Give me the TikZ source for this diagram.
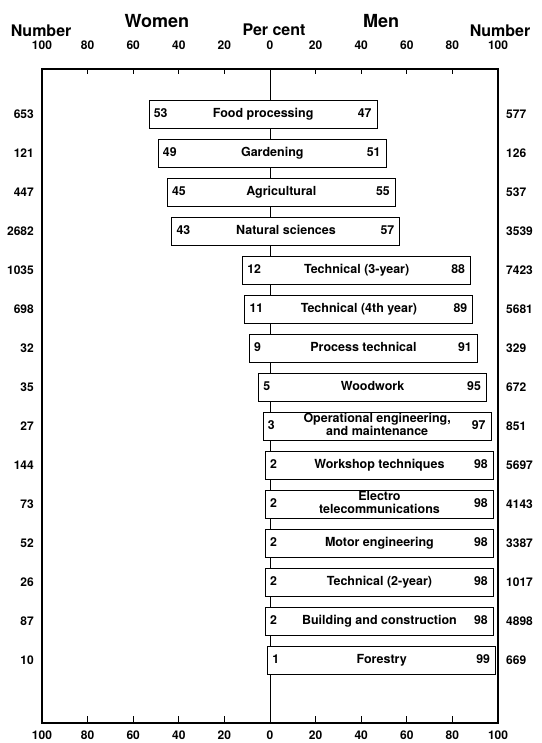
\documentclass[tikz,border=0pt]{standalone}
\usepackage{fontspec}
\setmainfont{TeX Gyre Heros}
\usepackage{tikz}
\usetikzlibrary{positioning}

\tikzset{
  barre/.style={draw, line width=1pt, fill=white, minimum width=228pt, minimum height=28pt,
    inner sep=0pt, align=center, font=\fontsize{12.5}{13.5}\selectfont\bfseries},
  pct/.style={font=\fontsize{12.3}{14}\selectfont\bfseries, inner sep=0pt,
    text height=9.45pt, text depth=4.05pt},
  nombre/.style={font=\fontsize{12}{14}\selectfont\bfseries, inner sep=0pt},
  titre/.style={font=\fontsize{18}{20}\selectfont\bfseries, inner sep=0pt},
  soustitre/.style={font=\fontsize{16}{18}\selectfont\bfseries, inner sep=0pt},
}

\begin{document}
\begin{tikzpicture}[x=2.28pt, y=-39pt]
    \useasboundingbox (-118.42,-1.936) rectangle (118.86,17.115);

    % Cadre
    \draw[line width=1.2pt] (-100,-0.167) rectangle (100,16.6);
    \coordinate (zt) at (0,-0.167);
    \coordinate (zb) at (0,16.6);
    \draw[line width=1pt] (zt) -- (zb);

    % Graduations
    \foreach \t in {-80,-60,...,80} {
        \draw[line width=1pt] (\t,-0.167) -- ++(0,-5pt);
        \draw[line width=1pt] (\t,16.6) -- ++(0,7pt);
    }
    \foreach \t/\s [count=\k] in {-100/100,-80/80,-60/60,-40/40,-20/20,0/0,20/20,40/40,60/60,80/80,100/100} {
        \node[nombre] (ht\k) at (\t,-0.782) {\s};
        \node[nombre] (bt\k) at (\t,16.91) {\s};
    }

    % Titres
    \node[soustitre] (nbw) at (-100.4,-1.141) {Number};
    \node[titre] (women) at (-49.6,-1.397) {Women};
    \node[soustitre] (pc) at (1.75,-1.167) {Per cent};
    \node[titre] (men) at (48.7,-1.397) {Men};
    \node[soustitre] (nbm) at (100.9,-1.141) {Number};

    % Barres
    \foreach \i/\w/\m/\nw/\nm/\lab in {
        1/53/47/653/577/{Food processing},
        2/49/51/121/126/{Gardening},
        3/45/55/447/537/{Agricultural},
        4/43/57/2682/3539/{Natural sciences},
        5/12/88/1035/7423/{Technical (3-year)},
        6/11/89/698/5681/{Technical (4th year)},
        7/9/91/32/329/{Process technical},
        8/5/95/35/672/{Woodwork},
        9/3/97/27/851/{Operational engineering,\\and maintenance},
        10/2/98/144/5697/{Workshop techniques},
        11/2/98/73/4143/{Electro\\telecommunications},
        12/2/98/52/3387/{Motor engineering},
        13/2/98/26/1017/{Technical (2-year)},
        14/2/98/87/4898/{Building and construction},
        15/1/99/10/669/{Forestry}} {
        \node[barre] (bar\i) at ({(\m-\w)/2},\i) {\strut\lab\strut};
        \node[pct, anchor=west] (pw\i) at ([xshift=5pt]bar\i.west) {\w};
        \node[pct, anchor=east] (pm\i) at ([xshift=-6pt]bar\i.east) {\m};
        \node[nombre, anchor=east] (nw\i) at (-103.5,\i) {\nw};
        \node[nombre, anchor=west] (nm\i) at (103.5,\i) {\nm};
    }
\end{tikzpicture}
\end{document}
